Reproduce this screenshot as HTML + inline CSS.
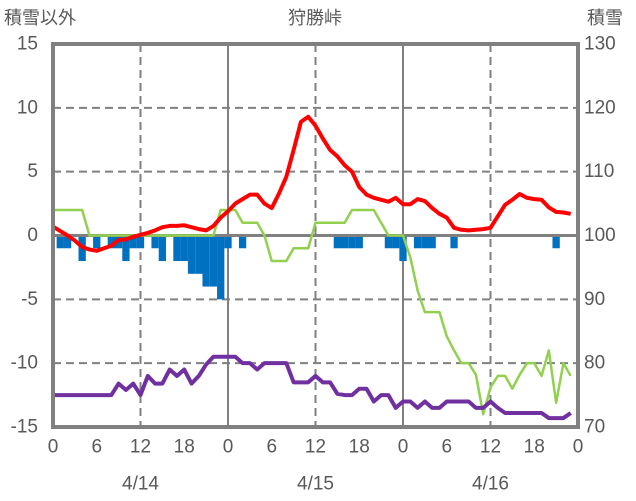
<!DOCTYPE html>
<html><head><meta charset="utf-8">
<style>
body{margin:0;background:#fff;}
svg{display:block;font-family:"Liberation Sans","Noto Sans CJK JP",sans-serif;}
</style></head>
<body>
<svg id="chart" width="636" height="501"></svg>
<script>
const hours=[...Array(72).keys()];
const temperature=[0.7,0.35,0,-0.4,-0.9,-1.1,-1.2,-1.0,-0.8,-0.35,-0.3,-0.1,0.05,0.2,0.4,0.65,0.75,0.75,0.8,0.65,0.5,0.4,0.75,1.4,1.9,2.5,2.85,3.2,3.2,2.5,2.15,3.3,4.6,6.7,8.9,9.3,8.6,7.6,6.7,6.2,5.5,5.0,3.8,3.2,2.95,2.8,2.65,2.95,2.45,2.45,2.85,2.7,2.15,1.7,1.4,0.6,0.45,0.4,0.45,0.5,0.6,1.5,2.4,2.8,3.25,2.95,2.85,2.8,2.2,1.85,1.8,1.7];
const greenSeries=[2,2,2,2,2,0,0,0,0,0,0,0,0,0,0,0,0,0,0,0,0,0,0,2,2,2,1,1,1,0,-2,-2,-2,-1,-1,-1,1,1,1,1,1,2,2,2,2,1,0,0,0,-1.7,-4.3,-6,-6,-6,-7.9,-9,-10,-10,-10.9,-14,-11.9,-11,-11,-12,-10.9,-10,-10,-11,-9,-13.1,-10,-11];
const snowDepth=[75,75,75,75,75,75,75,75,75,76.8,75.8,76.8,75,78,76.8,76.8,79,78,79,76.8,78,79.8,81,81,81,81,80,80,79,80,80,80,80,77,77,77,78,77,77,75.2,75,75,76,76,74,75,75,73,74,74,73,74,73,73,74,74,74,74,73,73,74,73,72.2,72.2,72.2,72.2,72.2,72.2,71.4,71.4,71.4,72.2];
const barValues=[0,-1,-1,0,-2,0,-1,0,-1,-1,-2,-1,-1,0,-1,-2,0,-2,-2,-3,-3,-4,-4,-5,-1,0,-1,0,0,0,0,0,0,0,0,0,0,0,0,-1,-1,-1,-1,0,0,0,-1,-1,-2,0,-1,-1,-1,0,0,-1,0,0,0,0,0,0,0,0,0,0,0,0,0,-1,0,0];
const leftTicks=[15,10,5,0,-5,-10,-15];
const rightTicks=[130,120,110,100,90,80,70];
const xTickLabels=["0","6","12","18","0","6","12","18","0","6","12","18","0"];
const dateLabels=["4/14","4/15","4/16"];

const X0=53,X1=578,Y0=44,Y1=427;
const xs=h=>X0+(X1-X0)*h/72;
const yl=v=>Y0+(15-v)*(Y1-Y0)/30;
const yr=v=>Y0+(130-v)*(Y1-Y0)/60;
const svg=document.getElementById('chart');
const NS='http://www.w3.org/2000/svg';
function mk(tag,attrs,parent){const e=document.createElementNS(NS,tag);for(const k in attrs)e.setAttribute(k,attrs[k]);(parent||svg).appendChild(e);return e;}

// grid
leftTicks.forEach(v=>{if(v===15||v===-15||v===0)return;
 const g=mk('line',{x1:X0,x2:X1,y1:yl(v),y2:yl(v),stroke:'#808080','stroke-width':2,'stroke-dasharray':'8,5'});
 
 });
for(let h=12;h<72;h+=12){
 const day=h%24===0;
 const g=mk('line',{x1:xs(h),x2:xs(h),y1:Y0,y2:Y1,stroke:'#808080','stroke-width':2,'stroke-dasharray':day?'none':'8,5'});
 
 }
// bars
barValues.forEach((v,i)=>{if(!v)return;
 const w=(X1-X0)/72;
 const r=mk('rect',{x:xs(i)-w/2,y:yl(0),width:w,height:yl(v)-yl(0),fill:'#0070C0'});
 
 });
// zero line
const z=mk('line',{x1:X0,x2:X1,y1:yl(0),y2:yl(0),stroke:'#808080','stroke-width':3});


function line(vals,fy,color,w,name){
 const p=mk('polyline',{points:vals.map((v,i)=>xs(hours[i])+','+fy(v)).join(' '),fill:'none',stroke:color,'stroke-width':w,'stroke-linejoin':'round'});
 
 }
line(greenSeries,yl,'#92D050',2.5,'green-line');
line(snowDepth,yr,'#7030A0',4,'snow-depth-line');
line(temperature,yl,'#FF0000',4,'temperature-line');
// frame
const f=mk('rect',{x:X0,y:Y0,width:X1-X0,height:Y1-Y0,fill:'none',stroke:'#808080','stroke-width':4});


function txt(s,x,y,anchor,size,name){
 const t=mk('text',{x:x,y:y,'text-anchor':anchor,'font-size':size,fill:'#595959','dominant-baseline':'central'});
 t.textContent=s;
 
 }
leftTicks.forEach(v=>txt(String(v),38,yl(v),'end',19,'left-tick-label'));
rightTicks.forEach(v=>txt(String(v),584,yr(v),'start',19,'right-tick-label'));
xTickLabels.forEach((s,i)=>txt(s,xs(i*6),447,'middle',19,'x-tick-label'));
dateLabels.forEach((s,i)=>txt(s,xs(12+24*i),484,'middle',19,'date-label'));
txt('狩勝峠',315,18,'middle',18,'chart-title');
txt('積雪以外',4,18,'start',18,'left-axis-title');
txt('積雪',587,18,'start',18,'right-axis-title');
</script>
</body></html>
